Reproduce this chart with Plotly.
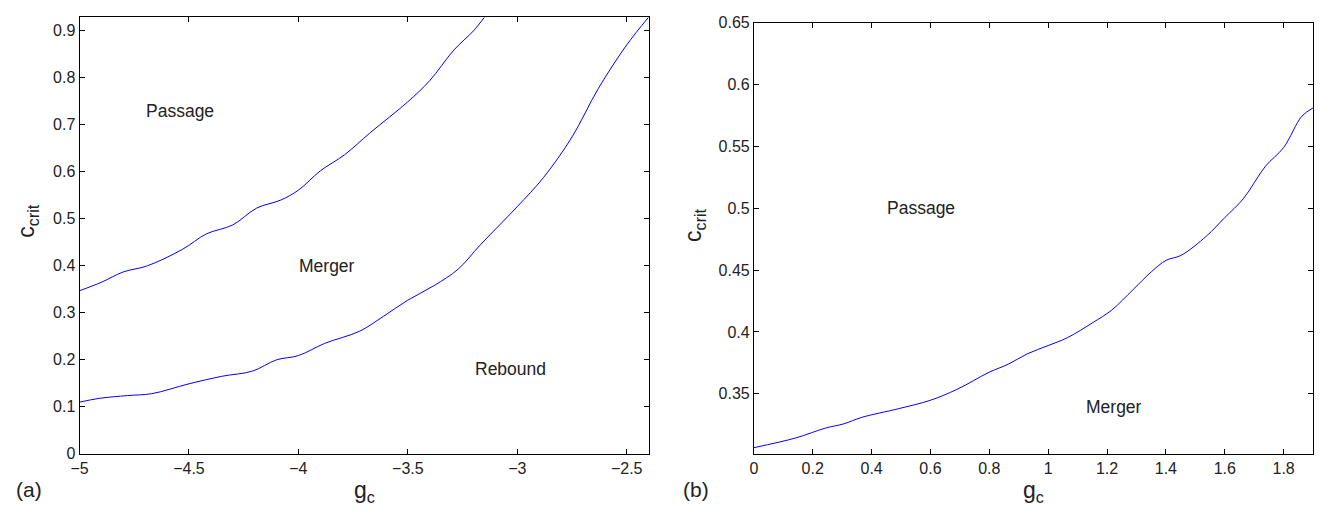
import plotly.graph_objects as go

W, H = 1320, 517

# ---- Panel (a) data ----
upper_a_x = [-5.0, -4.90, -4.80, -4.69, -4.53, -4.42, -4.30, -4.19, -4.08, -4.0, -3.90, -3.79,
             -3.67, -3.50, -3.40, -3.29, -3.20, -3.15]
upper_a_y = [0.347, 0.365, 0.387, 0.400, 0.435, 0.468, 0.487, 0.523, 0.540, 0.561, 0.602, 0.636,
             0.684, 0.749, 0.794, 0.859, 0.900, 0.929]

lower_a_x = [-5.0, -4.91, -4.78, -4.67, -4.50, -4.35, -4.21, -4.10, -4.0, -3.88, -3.72, -3.61,
             -3.50, -3.38, -3.27, -3.17, -3.0, -2.88, -2.75, -2.63, -2.50, -2.40]
lower_a_y = [0.110, 0.118, 0.124, 0.128, 0.149, 0.165, 0.176, 0.200, 0.209, 0.235, 0.261, 0.293,
             0.327, 0.358, 0.393, 0.444, 0.526, 0.588, 0.674, 0.777, 0.870, 0.929]

# ---- Panel (b) data ----
b_x = [0.0, 0.143, 0.243, 0.305, 0.367, 0.492, 0.60, 0.691, 0.80, 0.865, 0.928, 1.0, 1.065,
       1.152, 1.214, 1.289, 1.351, 1.401, 1.451, 1.538, 1.60, 1.663, 1.738, 1.80, 1.862, 1.90]
b_y = [0.3065, 0.3144, 0.3223, 0.3257, 0.331, 0.338, 0.3448, 0.3537, 0.3675, 0.374, 0.3822,
       0.389, 0.3953, 0.4076, 0.4173, 0.4343, 0.4487, 0.4579, 0.4618, 0.4775, 0.4924, 0.5076,
       0.5338, 0.549, 0.5743, 0.581]

# ---- tick labels ----
a_xticks = [-5, -4.5, -4, -3.5, -3, -2.5]
a_xtext = ["\u22125", "\u22124.5", "\u22124", "\u22123.5", "\u22123", "\u22122.5"]
a_yticks = [0, 0.1, 0.2, 0.3, 0.4, 0.5, 0.6, 0.7, 0.8, 0.9]
a_ytext = ["0", "0.1", "0.2", "0.3", "0.4", "0.5", "0.6", "0.7", "0.8", "0.9"]
b_xticks = [0, 0.2, 0.4, 0.6, 0.8, 1, 1.2, 1.4, 1.6, 1.8]
b_xtext = ["0", "0.2", "0.4", "0.6", "0.8", "1", "1.2", "1.4", "1.6", "1.8"]
b_yticks = [0.35, 0.4, 0.45, 0.5, 0.55, 0.6, 0.65]
b_ytext = ["0.35", "0.4", "0.45", "0.5", "0.55", "0.6", "0.65"]

# region labels
a_labels = [("Passage", -4.54, 0.729), ("Merger", -3.87, 0.399), ("Rebound", -3.03, 0.18)]
b_labels = [("Passage", 0.567, 0.50), ("Merger", 1.224, 0.339)]

FONT = "Liberation Sans, Arial, Helvetica, sans-serif"
TXT = "#222222"
LINE = "#0000ff"

fig = go.Figure()
fig.add_trace(go.Scatter(x=upper_a_x, y=upper_a_y, mode="lines", line=dict(color=LINE, width=1, shape="spline"),
                         xaxis="x", yaxis="y", showlegend=False))
fig.add_trace(go.Scatter(x=lower_a_x, y=lower_a_y, mode="lines", line=dict(color=LINE, width=1, shape="spline"),
                         xaxis="x", yaxis="y", showlegend=False))
fig.add_trace(go.Scatter(x=b_x, y=b_y, mode="lines", line=dict(color=LINE, width=1, shape="spline"),
                         xaxis="x2", yaxis="y2", showlegend=False))


def px(x):
    return x / W


def py(y):
    return 1 - y / H


axis_common = dict(showline=True, linecolor="black", linewidth=1, mirror="ticks", ticks="inside",
                   ticklen=5, tickwidth=1, tickcolor="black", showgrid=False, zeroline=False,
                   tickfont=dict(family=FONT, size=16, color=TXT), tickmode="array")

fig.update_layout(
    width=W, height=H, margin=dict(l=0, r=0, t=0, b=0),
    paper_bgcolor="white", plot_bgcolor="white",
    xaxis=dict(domain=[px(71), px(644)], range=[-5, -2.4], tickvals=a_xticks, ticktext=a_xtext,
               anchor="y", **axis_common),
    yaxis=dict(domain=[py(461), py(9.5)], range=[0, 0.929], tickvals=a_yticks, ticktext=a_ytext,
               anchor="x", **axis_common),
    xaxis2=dict(domain=[px(750), px(1313)], range=[0, 1.9], tickvals=b_xticks, ticktext=b_xtext,
                anchor="y2", **axis_common),
    yaxis2=dict(domain=[py(461), py(15)], range=[0.3015, 0.65], tickvals=b_yticks, ticktext=b_ytext,
                anchor="x2", **axis_common),
)

ann = []
lab_font = dict(family=FONT, size=17.5, color=TXT)
for t, x, y in a_labels:
    ann.append(dict(text=t, x=x, y=y, xref="x", yref="y", showarrow=False, font=lab_font,
                    xanchor="center", yanchor="middle"))
for t, x, y in b_labels:
    ann.append(dict(text=t, x=x, y=y, xref="x2", yref="y2", showarrow=False, font=lab_font,
                    xanchor="center", yanchor="middle"))

title_font = dict(family=FONT, size=23, color=TXT)


def paper_text(text, x, y, font, angle=0):
    return dict(text=text, x=px(x), y=py(y), xref="paper", yref="paper", textangle=angle,
                showarrow=False, font=font, xanchor="center", yanchor="middle")


ann.append(paper_text("c<sub>crit</sub>", 19, 220, title_font, -90))
ann.append(paper_text("c<sub>crit</sub>", 690, 225, title_font, -90))
ann.append(paper_text("g<sub>c</sub>", 358, 500, title_font))
ann.append(paper_text("g<sub>c</sub>", 1032, 500, title_font))
ann.append(paper_text("(a)", 20, 498, dict(family=FONT, size=21, color=TXT)))
ann.append(paper_text("(b)", 692, 498, dict(family=FONT, size=21, color=TXT)))
fig.update_layout(annotations=ann)

fig.write_html("out.html")
